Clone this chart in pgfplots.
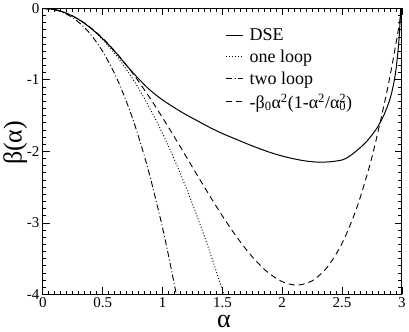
\documentclass[border=0pt]{standalone}
\usepackage{pgfplots}
\pgfplotsset{compat=1.18}
\usepackage{fontspec}
\setmainfont{Liberation Serif}

\begin{document}
\begin{tikzpicture}
\begin{axis}[
  scale only axis,
  width=359pt, height=286pt,
  xmin=0, xmax=3, ymin=-4, ymax=0,
  xtick={0,0.5,1,1.5,2,2.5,3},
  xticklabels={0,0.5,1,1.5,2,2.5,3},
  ytick={-4,-3,-2,-1,0},
  yticklabels={-4,-3,-2,-1,0},
  minor x tick num=9, minor y tick num=9,
  tick align=inside,
  major tick length=7pt, minor tick length=3.5pt,
  axis line style={line width=1pt},
  every tick/.style={black, line width=0.8pt},
  tick label style={font=\fontsize{15}{15}\selectfont},
  xlabel={α}, ylabel={β(α)},
  label style={font=\fontsize{26}{26}\selectfont},
  x label style={at={(axis description cs:0.504,-0.062)}, anchor=north},
  y label style={at={(axis description cs:-0.077,0.53)}, anchor=center},
  legend style={draw=none, fill=none, at={(rel axis cs:0.5,0.945)}, anchor=north west,
    font=\fontsize{18}{20}\selectfont, row sep=4pt},
  legend cell align=left,
  legend image code/.code={\draw[#1] (0pt,0pt) -- (17pt,0pt); \path (21pt,0pt);},
]
% DSE
\addplot[black, line width=1pt, smooth] coordinates {
  (0,0) (0.1,-0.017) (0.2,-0.07) (0.3,-0.155) (0.4,-0.275) (0.5,-0.425)
  (0.6,-0.60) (0.7,-0.80) (0.8,-0.985) (0.9,-1.15) (1.0,-1.28) (1.1,-1.39)
  (1.2,-1.49) (1.3,-1.58) (1.4,-1.67) (1.5,-1.75) (1.6,-1.82) (1.7,-1.89)
  (1.8,-1.955) (1.9,-2.015) (2.0,-2.065) (2.1,-2.105) (2.2,-2.135) (2.3,-2.15)
  (2.4,-2.145) (2.5,-2.12) (2.55,-2.08) (2.6,-2.02) (2.65,-1.95) (2.7,-1.87)
  (2.75,-1.77) (2.8,-1.65) (2.85,-1.49) (2.9,-1.27) (2.93,-1.06) (2.95,-0.86)
  (2.97,-0.55) (2.98,-0.32) (2.99,0)
};
\addlegendentry{DSE}
% one loop
\addplot[black, line width=0.9pt, dash pattern=on 1pt off 2pt, smooth] coordinates {
  (0,0) (0.125,-0.0273) (0.25,-0.109) (0.375,-0.246) (0.5,-0.4375) (0.625,-0.684)
  (0.75,-0.984) (0.875,-1.340) (1.0,-1.75) (1.125,-2.215) (1.25,-2.734)
  (1.375,-3.309) (1.5,-3.9375) (1.55,-4.204)
};
\addlegendentry{one loop}
% two loop
\addplot[black, line width=0.9pt, dash pattern=on 6pt off 2.5pt on 1pt off 2.5pt, smooth] coordinates {
  (0,0) (0.125,-0.030) (0.25,-0.130) (0.375,-0.316) (0.5,-0.603) (0.625,-1.006)
  (0.75,-1.541) (0.875,-2.224) (1.0,-3.07) (1.1,-3.874) (1.15,-4.322)
};
\addlegendentry{two loop}
% -beta0 alpha^2 (1 - alpha^2/alpha0^2)
\addplot[black, line width=0.9pt, dash pattern=on 6pt off 4pt, smooth] coordinates {
  (0,0) (0.125,-0.027) (0.25,-0.107) (0.375,-0.238) (0.5,-0.418) (0.625,-0.643)
  (0.75,-0.907) (0.875,-1.205) (1.0,-1.529) (1.125,-1.871) (1.25,-2.221)
  (1.375,-2.569) (1.5,-2.903) (1.625,-3.209) (1.75,-3.475) (1.875,-3.685)
  (2.0,-3.822) (2.125,-3.870) (2.25,-3.810) (2.375,-3.622) (2.5,-3.285)
  (2.625,-2.778) (2.75,-2.077) (2.875,-1.160) (2.95,-0.495) (3.0,0)
};
\addlegendentry{-β\textsubscript{0}α\textsuperscript{2}(1-α\textsuperscript{2}/α\textsuperscript{2}\llap{\textsubscript{0}})}
\end{axis}
\end{tikzpicture}
\end{document}
